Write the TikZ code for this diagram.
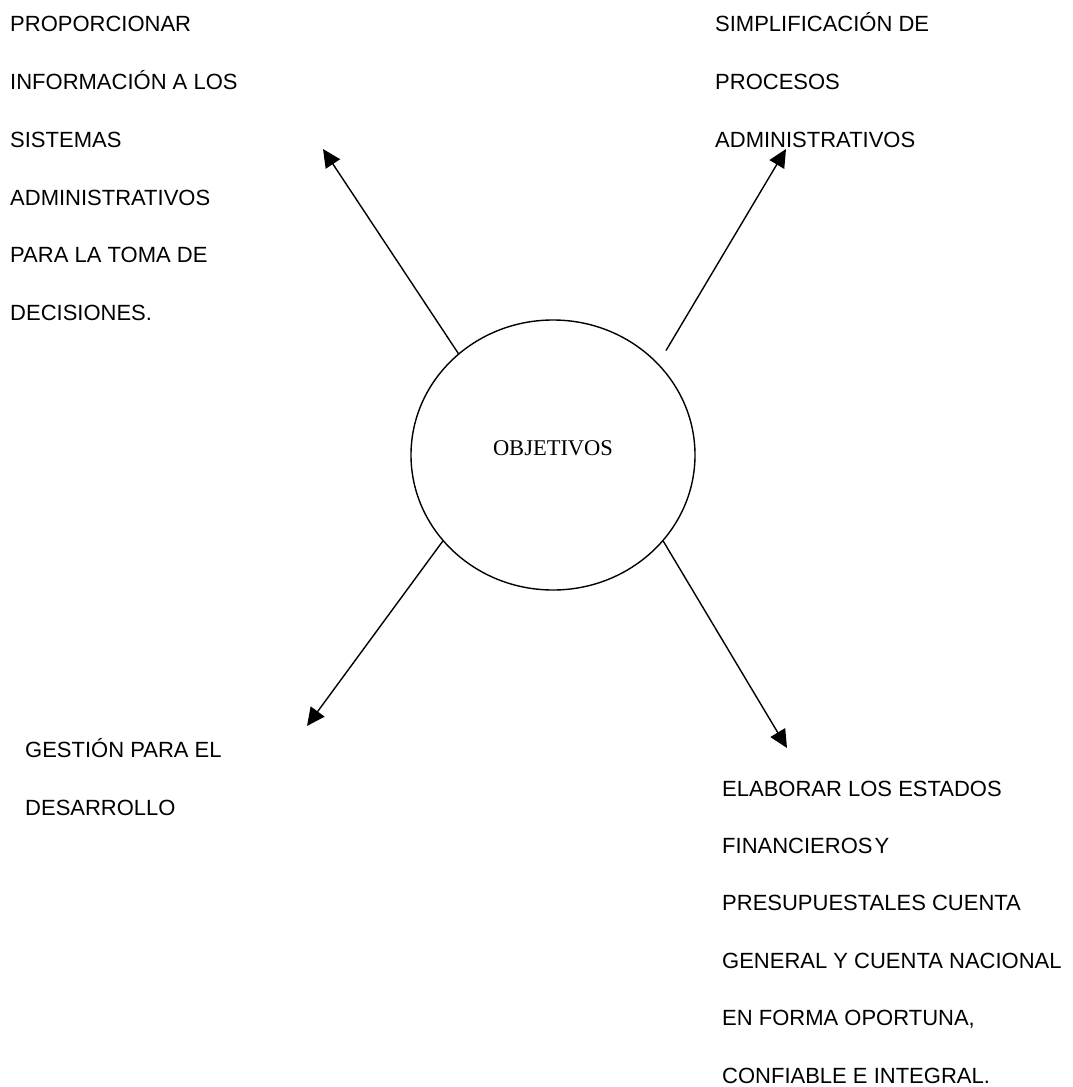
\documentclass[tikz,border=0pt]{standalone}
\usepackage{fontspec}
\setmainfont{Liberation Serif}
\newfontfamily\arialf{Liberation Sans}
\usetikzlibrary{arrows.meta,shapes.geometric}
\begin{document}
\begin{tikzpicture}[x=1pt,y=-1pt,
  txt/.style={font=\arialf\fontsize{22}{26}\selectfont, inner sep=0pt, anchor=base west, text=black},
  arr/.style={draw=black, line width=1.4pt, -{Triangle[length=18pt,width=17pt]}},
  circ/.style={draw=black, line width=1.4pt, ellipse, minimum width=284pt, minimum height=270pt, inner sep=0pt}]
\useasboundingbox[fill=white] (0,0) rectangle (1073,1087);

% central ellipse
\node[circ] (obj) at (553,455) {};
\node[font=\fontsize{22.5}{26}\selectfont, inner sep=0pt, anchor=base] (objt) at (553,455.5) {OBJETIVOS};

% arrow end points
\coordinate (eUL) at (323,149);
\coordinate (eUR) at (786,149);
\coordinate (eLL) at (307,726);
\coordinate (eLR) at (787,748);

\draw[arr] (obj.133) -- (eUL);
\draw[arr, shorten <=15pt] (obj.41.3) -- (eUR);
\draw[arr] (obj.218) -- (eLL);
\draw[arr] (obj.322) -- (eLR);

% top-left text
\node[txt] (tl1) at (10,31.7) {PROPORCIONAR};
\node[txt] (tl2) at (10,89.5) {INFORMACIÓN A LOS};
\node[txt] (tl3) at (10,147.3) {SISTEMAS};
\node[txt] (tl4) at (10,205.1) {ADMINISTRATIVOS};
\node[txt] (tl5) at (10,262.9) {PARA LA TOMA DE};
\node[txt] (tl6) at (10,320.7) {DECISIONES.};

% top-right text
\node[txt] (tr1) at (715,31.7) {SIMPLIFICACIÓN DE};
\node[txt] (tr2) at (715,89.4) {PROCESOS};
\node[txt] (tr3) at (715,147.1) {ADMINISTRATIVOS};

% bottom-left text
\node[txt] (ll1) at (25,757.3) {GESTIÓN PARA EL};
\node[txt] (ll2) at (25,815) {DESARROLLO};

% bottom-right text
\node[txt] (lr1) at (722,796) {ELABORAR LOS ESTADOS};
\node[txt] (lr2) at (722,853.4) {FINANCIEROS\kern-4pt\ Y};
\node[txt] (lr3) at (722,910.8) {PRESUPUESTALES CUENTA};
\node[txt] (lr4) at (722,968.2) {GENERAL Y CUENTA NACIONAL};
\node[txt] (lr5) at (722,1025.6) {EN FORMA OPORTUNA,};
\node[txt] (lr6) at (722,1083) {CONFIABLE E INTEGRAL.};
\end{tikzpicture}
\end{document}
